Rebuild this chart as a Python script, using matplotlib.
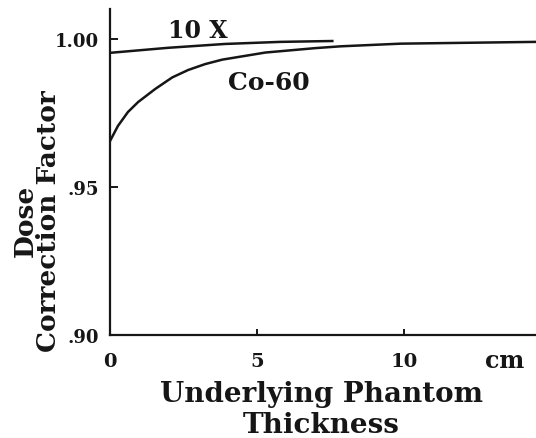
import matplotlib
matplotlib.use("Agg")
import matplotlib.pyplot as plt

# values (cm, correction factor)
co60_x = [0, 0.27, 0.61, 0.96, 1.54, 2.12, 2.66, 3.24, 3.82, 5.29, 7.0, 7.85, 9.9, 14.5]
co60_y = [0.9655, 0.9706, 0.9753, 0.9787, 0.9831, 0.9870, 0.9895, 0.9915, 0.9930,
          0.9954, 0.9969, 0.9975, 0.9984, 0.9990]

x10_x = [0, 1.98, 3.92, 5.80, 7.61]
x10_y = [0.9953, 0.9970, 0.9983, 0.9990, 0.9993]

yticks = [0.90, 0.95, 1.00]
yticklabels = [".90", ".95", "1.00"]
xticks = [0, 5, 10]
xticklabels = ["0", "5", "10"]

plt.rcParams["font.family"] = "DejaVu Serif"
plt.rcParams["font.weight"] = "bold"

fig = plt.figure(figsize=(5.36, 4.39), dpi=100)
ax = fig.add_axes([0.2052, 0.2346, 0.7948, 0.7426])

ink = "#161616"
ax.plot(x10_x, x10_y, color=ink, lw=1.8, solid_capstyle="butt")
ax.plot(co60_x, co60_y, color=ink, lw=1.8, solid_capstyle="butt", solid_joinstyle="round")

ax.set_xlim(0, 14.5)
ax.set_ylim(0.90, 1.0101)

for s in ["top", "right"]:
    ax.spines[s].set_visible(False)
for s in ["left", "bottom"]:
    ax.spines[s].set_linewidth(1.6)
    ax.spines[s].set_color(ink)

ax.set_yticks(yticks)
ax.set_yticklabels(yticklabels, fontsize=13, fontweight="bold")
ax.set_xticks(xticks)
ax.set_xticklabels(xticklabels, fontsize=14, fontweight="bold")
ax.tick_params(axis="y", direction="in", length=6, width=1.4, pad=8, colors=ink)
ax.tick_params(axis="x", direction="in", length=4, width=1.4, pad=12, colors=ink)

# unit sits on the tick label row, right end of the axis
fig.text(505 / 536, 1 - 361 / 439, "cm", ha="center", va="center",
         fontsize=17, fontweight="bold", color=ink)

ax.text(3.0, 1.0006, "10 X", ha="center", va="baseline", fontsize=17, fontweight="bold", color=ink)
ax.text(5.39, 0.9855, "Co-60", ha="center", va="center", fontsize=18, fontweight="bold", color=ink)

fig.text(0.60, 0.066, "Underlying Phantom\nThickness", ha="center", va="center",
         fontsize=20, fontweight="bold", color=ink, linespacing=1.2)
fig.text(37 / 536, 1 - 221 / 439, "Dose\nCorrection Factor", ha="center", va="center",
         rotation=90, fontsize=19, fontweight="bold", color=ink, linespacing=0.92,
         multialignment="center")

fig.savefig("out.png", dpi=100, facecolor="white")
